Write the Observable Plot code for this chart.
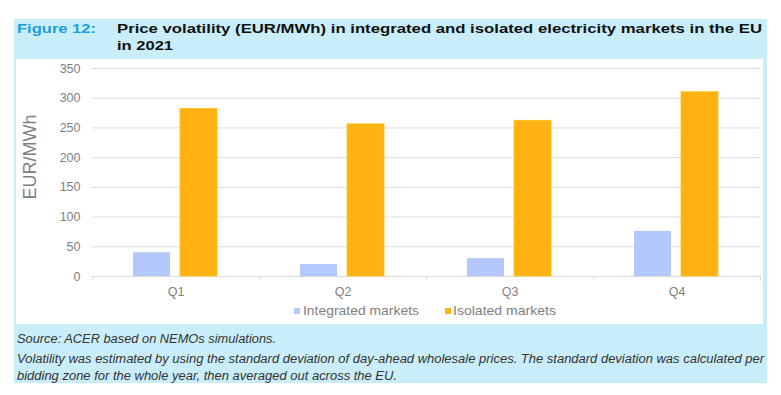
<!DOCTYPE html>
<html>
<head>
<meta charset="utf-8">
<script src="https://cdn.jsdelivr.net/npm/d3@7"></script>
<script src="https://cdn.jsdelivr.net/npm/@observablehq/plot@0.6"></script>
<style>
  html, body { margin: 0; padding: 0; background: #fff; }
  #page { position: relative; width: 781px; height: 395px; overflow: hidden; font-family: "Liberation Sans", Arial, sans-serif; }
  #frame { position: absolute; left: 14px; top: 19px; width: 753px; height: 364px; background: #c9eefa; }
  #inner { position: absolute; left: 16px; top: 59px; width: 747px; height: 265px; background: #fff; }
  .t { position: absolute; white-space: nowrap; line-height: 1; transform-origin: 0 0; }
  .fig { color: #1b9fdb; font-weight: bold; font-size: 13.5px; }
  .title { color: #111; font-weight: bold; font-size: 13.5px; }
  .foot { color: #333; font-style: italic; font-size: 12.5px; }
  .leg { color: #7f7f7f; font-size: 13.5px; }
  .sw { position: absolute; width: 6px; height: 6px; }
</style>
</head>
<body>
<div id="page">
  <div id="frame"></div>
  <div id="inner"></div>
  <div id="chart" style="position:absolute;left:16px;top:59px;"></div>
  <span class="t fig" data-w="79" style="left:17px;top:22px;">Figure 12:</span>
  <span class="t title" data-w="645" style="left:117px;top:22px;">Price volatility (EUR/MWh) in integrated and isolated electricity markets in the EU</span>
  <span class="t title" data-w="56" style="left:117px;top:39px;">in 2021</span>
  <div class="sw" id="sw1" style="left:294px;top:308px;"></div>
  <span class="t leg" id="lg1" data-w="116" style="left:303px;top:304px;"></span>
  <div class="sw" id="sw2" style="left:445px;top:308px;"></div>
  <span class="t leg" id="lg2" data-w="103" style="left:453px;top:304px;"></span>
  <span class="t foot" data-w="259" style="left:17px;top:333px;">Source: ACER based on NEMOs simulations.</span>
  <span class="t foot" data-w="747" style="left:17px;top:353px;">Volatility was estimated by using the standard deviation of day-ahead wholesale prices. The standard deviation was calculated per</span>
  <span class="t foot" data-w="380" style="left:17px;top:370px;">bidding zone for the whole year, then averaged out across the EU.</span>
</div>
<script>
const quarters = ["Q1", "Q2", "Q3", "Q4"];
const seriesNames = ["Integrated markets", "Isolated markets"];
const integrated = [40, 20, 30, 76];
const isolated = [282, 256, 262, 310];
const yTicks = [0, 50, 100, 150, 200, 250, 300, 350];
const yLabel = "EUR/MWh";
const colors = ["#b5c8fb", "#ffb212"];

const dataInt = quarters.map((q, i) => ({q, v: integrated[i]}));
const dataIso = quarters.map((q, i) => ({q, v: isolated[i]}));

const chart = Plot.plot({
  width: 747,
  height: 265,
  marginLeft: 76,
  marginRight: 3,
  marginTop: 9,
  marginBottom: 48,
  style: {fontFamily: "'Liberation Sans', Arial, sans-serif", fontSize: "13px", background: "transparent", overflow: "visible"},
  x: {domain: quarters, padding: 0},
  y: {domain: [0, 350]},
  marks: [
    Plot.ruleY(yTicks, {stroke: "#dcdcdc", strokeWidth: 1}),
    Plot.ruleX(quarters, {x: d => d, dx: -83.5, y1: 0, y2: -7, stroke: "#dcdcdc"}),
    Plot.ruleX([quarters[quarters.length - 1]], {x: d => d, dx: 83.5, y1: 0, y2: -7, stroke: "#dcdcdc"}),
    Plot.barY(dataInt, {x: "q", y: "v", fill: colors[0], insetLeft: 41, insetRight: 89}),
    Plot.barY(dataIso, {x: "q", y: "v", fill: colors[1], stroke: "#ffc21a", strokeWidth: 0.8, insetLeft: 88, insetRight: 42}),
    Plot.axisY(yTicks, {tickSize: 0, tickPadding: 12, fill: "#7f7f7f", fontSize: 12.5, label: null}),
    Plot.axisX({tickSize: 0, tickPadding: 11, fill: "#7f7f7f", fontSize: 12.5, label: null}),
    Plot.text([yLabel], {text: d => d, frameAnchor: "left", dx: -62, dy: 27, rotate: -90, fill: "#7f7f7f", fontSize: 18})
  ]
});
document.getElementById("chart").appendChild(chart);

document.getElementById("sw1").style.background = colors[0];
document.getElementById("sw2").style.background = colors[1];
document.getElementById("lg1").textContent = seriesNames[0];
document.getElementById("lg2").textContent = seriesNames[1];

document.querySelectorAll("[data-w]").forEach(el => {
  const w = +el.dataset.w;
  const actual = el.getBoundingClientRect().width;
  if (actual > 0) el.style.transform = `scaleX(${w / actual})`;
});
</script>
</body>
</html>
